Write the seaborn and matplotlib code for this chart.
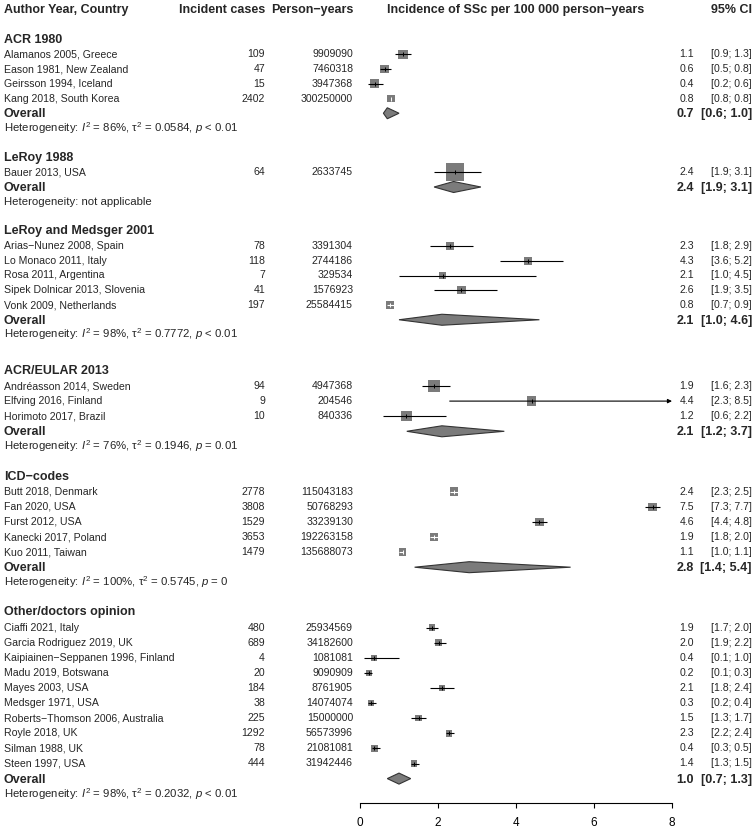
import numpy as np
import pandas as pd
import matplotlib
matplotlib.use("Agg")
import matplotlib.pyplot as plt
import seaborn as sns
from matplotlib.patches import Polygon

# ---------------- data ----------------
groups = ["ACR 1980", "LeRoy 1988", "LeRoy and Medsger 2001",
          "ACR/EULAR 2013", "ICD\u2212codes", "Other/doctors opinion"]

study_group = [0, 0, 0, 0,
               1,
               2, 2, 2, 2, 2,
               3, 3, 3,
               4, 4, 4, 4, 4,
               5, 5, 5, 5, 5, 5, 5, 5, 5, 5]

studies = ["Alamanos 2005, Greece", "Eason 1981, New Zealand", "Geirsson 1994, Iceland",
           "Kang 2018, South Korea",
           "Bauer 2013, USA",
           "Arias\u2212Nunez 2008, Spain", "Lo Monaco 2011, Italy", "Rosa 2011, Argentina",
           "Sipek Dolnicar 2013, Slovenia", "Vonk 2009, Netherlands",
           "Andr\u00e9asson 2014, Sweden", "Elfving 2016, Finland", "Horimoto 2017, Brazil",
           "Butt 2018, Denmark", "Fan 2020, USA", "Furst 2012, USA", "Kanecki 2017, Poland",
           "Kuo 2011, Taiwan",
           "Ciaffi 2021, Italy", "Garcia Rodriguez 2019, UK",
           "Kaipiainen\u2212Seppanen 1996, Finland", "Madu 2019, Botswana", "Mayes 2003, USA",
           "Medsger 1971, USA", "Roberts\u2212Thomson 2006, Australia", "Royle 2018, UK",
           "Silman 1988, UK", "Steen 1997, USA"]

cases = [109, 47, 15, 2402,
         64,
         78, 118, 7, 41, 197,
         94, 9, 10,
         2778, 3808, 1529, 3653, 1479,
         480, 689, 4, 20, 184, 38, 225, 1292, 78, 444]

person_years = [9909090, 7460318, 3947368, 300250000,
                2633745,
                3391304, 2744186, 329534, 1576923, 25584415,
                4947368, 204546, 840336,
                115043183, 50768293, 33239130, 192263158, 135688073,
                25934569, 34182600, 1081081, 9090909, 8761905, 14074074, 15000000,
                56573996, 21081081, 31942446]

ci_low = [0.9, 0.5, 0.2, 0.8,
          1.9,
          1.8, 3.6, 1.0, 1.9, 0.7,
          1.6, 2.3, 0.6,
          2.3, 7.3, 4.4, 1.8, 1.0,
          1.7, 1.9, 0.1, 0.1, 1.8, 0.2, 1.3, 2.2, 0.3, 1.3]

ci_high = [1.3, 0.8, 0.6, 0.8,
           3.1,
           2.9, 5.2, 4.5, 3.5, 0.9,
           2.3, 8.5, 2.2,
           2.5, 7.7, 4.8, 2.0, 1.1,
           2.0, 2.2, 1.0, 0.3, 2.4, 0.4, 1.7, 2.4, 0.5, 1.5]

weight = [22, 20, 20, 14,
          78,
          16, 16, 13, 17, 16,
          32, 22, 28,
          18, 17, 17, 18, 15,
          10.5, 10.5, 9, 9, 10, 9, 10, 10.5, 10, 10.5]

overall_est = [0.7, 2.4, 2.1, 2.1, 2.8, 1.0]
overall_low = [0.6, 1.9, 1.0, 1.2, 1.4, 0.7]
overall_high = [1.0, 3.1, 4.6, 3.7, 5.4, 1.3]

het_i2 = ["86%", None, "98%", "76%", "100%", "98%"]
het_tau2 = ["0.0584", None, "0.7772", "0.1946", "0.5745", "0.2032"]
het_p = ["< 0.01", None, "< 0.01", "= 0.01", "= 0", "< 0.01"]

x_ticks = [0, 2, 4, 6, 8]

col_headers = ["Author Year, Country", "Incident cases", "Person\u2212years",
               "Incidence of SSc per 100 000 person\u2212years", "95% CI"]

# ---------------- style ----------------
sns.set_theme(style="white")
plt.rcParams["font.family"] = ["Liberation Sans", "DejaVu Sans"]
plt.rcParams["mathtext.fontset"] = "custom"
plt.rcParams["mathtext.rm"] = "Liberation Sans"
plt.rcParams["mathtext.it"] = "Liberation Sans:italic"
plt.rcParams["mathtext.bf"] = "Liberation Sans:bold"

W, H = 755, 834
AX_L, AX_R, AX_Y = 360, 672, 803
X_MIN, X_MAX = 0, 8
FS_REG = 7.6
FS_HET = 8.2
FS_BOLD = 9.0
SQ_COL = "#7b7b7b"


def row_to_px(r):
    if r <= 23:
        return 10 + 14.75 * r
    return 386 + 15.1 * (r - 25)


fig = plt.figure(figsize=(W / 100, H / 100), dpi=100)
fig.patch.set_facecolor("white")

ax_t = fig.add_axes([0, 0, 1, 1])
ax_t.set_xlim(0, W)
ax_t.set_ylim(H, 0)
ax_t.axis("off")
ax_t.patch.set_alpha(0)

ax = fig.add_axes([AX_L / W, (H - AX_Y) / H, (AX_R - AX_L) / W, AX_Y / H])
ax.set_xlim(X_MIN, X_MAX)
ax.set_ylim(AX_Y, 0)
ax.patch.set_alpha(0)

# ---------------- layout rows ----------------
incidence = [c / p * 1e5 for c, p in zip(cases, person_years)]
df = pd.DataFrame({"study": studies, "group": study_group, "cases": cases,
                   "py": person_years, "est": incidence, "lo": ci_low,
                   "hi": ci_high, "weight": weight})

row = 2
study_rows = []
group_rows = []
for g in range(len(groups)):
    hdr = row
    row += 1
    n = int((df["group"] == g).sum())
    study_rows.extend(range(row, row + n))
    row += n
    ov = row
    het = row + 1
    group_rows.append((hdr, ov, het))
    row += 3

df["y"] = [row_to_px(r) for r in study_rows]

# ---------------- column headers ----------------
y0 = row_to_px(0)
ax_t.text(4, y0, col_headers[0], ha="left", va="center", fontsize=FS_BOLD, fontweight="bold")
ax_t.text(265, y0, col_headers[1], ha="right", va="center", fontsize=FS_BOLD, fontweight="bold")
ax_t.text(353, y0, col_headers[2], ha="right", va="center", fontsize=FS_BOLD, fontweight="bold")
ax_t.text((AX_L + AX_R) / 2, y0, col_headers[3], ha="center", va="center",
          fontsize=FS_BOLD, fontweight="bold")
ax_t.text(752, y0, col_headers[4], ha="right", va="center", fontsize=FS_BOLD, fontweight="bold")

# ---------------- study text ----------------
for _, r in df.iterrows():
    y = r["y"]
    ax_t.text(4, y, r["study"], ha="left", va="center", fontsize=FS_REG)
    ax_t.text(265, y, f"{int(r['cases'])}", ha="right", va="center", fontsize=FS_REG)
    ax_t.text(353, y, f"{int(r['py'])}", ha="right", va="center", fontsize=FS_REG)
    ax_t.text(694, y, f"{r['est']:.1f}", ha="right", va="center", fontsize=FS_REG)
    ax_t.text(752, y, f"[{r['lo']:.1f}; {r['hi']:.1f}]", ha="right", va="center", fontsize=FS_REG)

# ---------------- group text ----------------
for g, (hdr, ov, het) in enumerate(group_rows):
    ax_t.text(4, row_to_px(hdr), groups[g], ha="left", va="center",
              fontsize=FS_BOLD, fontweight="bold")
    yo = row_to_px(ov)
    ax_t.text(4, yo + 1, "Overall", ha="left", va="center", fontsize=FS_BOLD, fontweight="bold")
    ax_t.text(694, yo + 1, f"{overall_est[g]:.1f}", ha="right", va="center",
              fontsize=FS_BOLD, fontweight="bold")
    ax_t.text(752, yo + 1, f"[{overall_low[g]:.1f}; {overall_high[g]:.1f}]", ha="right",
              va="center", fontsize=FS_BOLD, fontweight="bold")
    if het_i2[g] is None:
        htxt = "Heterogeneity: not applicable"
    else:
        htxt = (f"Heterogeneity: $I^2$ = {het_i2[g]}, \u03c4$^2$ = {het_tau2[g]}, "
                f"$p$ {het_p[g]}")
    ax_t.text(4, row_to_px(het), htxt, ha="left", va="center", fontsize=FS_HET)

    # diamond
    h = 5.5
    poly = Polygon([(overall_low[g], yo), (overall_est[g], yo - h),
                    (overall_high[g], yo), (overall_est[g], yo + h)],
                   closed=True, facecolor=SQ_COL, edgecolor="#333333", linewidth=0.8,
                   zorder=3)
    ax.add_patch(poly)

# ---------------- squares ----------------
WMAX = 100.0
k = (2 * 0.72) ** 2  # side_px = 2*sqrt(w) -> s = k * w (points^2)
sns.scatterplot(data=df, x="est", y="y", size="weight", sizes=(0, k * WMAX),
                size_norm=(0, WMAX), marker="s", color=SQ_COL, edgecolor="none",
                linewidth=0, legend=False, ax=ax, zorder=2, clip_on=False)

# ---------------- CI lines ----------------
ppu = (AX_R - AX_L) / (X_MAX - X_MIN)
for _, r in df.iterrows():
    side = 2 * np.sqrt(r["weight"])
    inside = (r["hi"] - r["lo"]) * ppu < side
    col = "white" if inside else "black"
    y = r["y"]
    if r["hi"] > X_MAX:
        ax.annotate("", xy=(X_MAX, y), xytext=(r["lo"], y),
                    arrowprops=dict(arrowstyle="-|>", lw=0.8, color="black",
                                    mutation_scale=6, shrinkA=0, shrinkB=0),
                    annotation_clip=False, zorder=3)
    else:
        ax.plot([r["lo"], r["hi"]], [y, y], color=col, lw=0.8, zorder=3,
                solid_capstyle="butt", clip_on=False)
    ax.scatter([r["est"]], [y], marker="|", s=10, color=col, linewidths=0.7, zorder=4,
               clip_on=False)

# ---------------- axis ----------------
ax.set_xticks(x_ticks)
ax.set_xticklabels([str(t) for t in x_ticks])
ax.set_yticks([])
ax.set_xlabel("")
ax.set_ylabel("")
for s in ["top", "left", "right"]:
    ax.spines[s].set_visible(False)
ax.spines["bottom"].set_color("black")
ax.spines["bottom"].set_linewidth(0.8)
ax.tick_params(axis="x", direction="out", length=3.8, width=0.8, color="black",
               pad=6.5, labelsize=8.5, labelcolor="black", bottom=True)

fig.savefig("out.png", dpi=100, facecolor="white")
